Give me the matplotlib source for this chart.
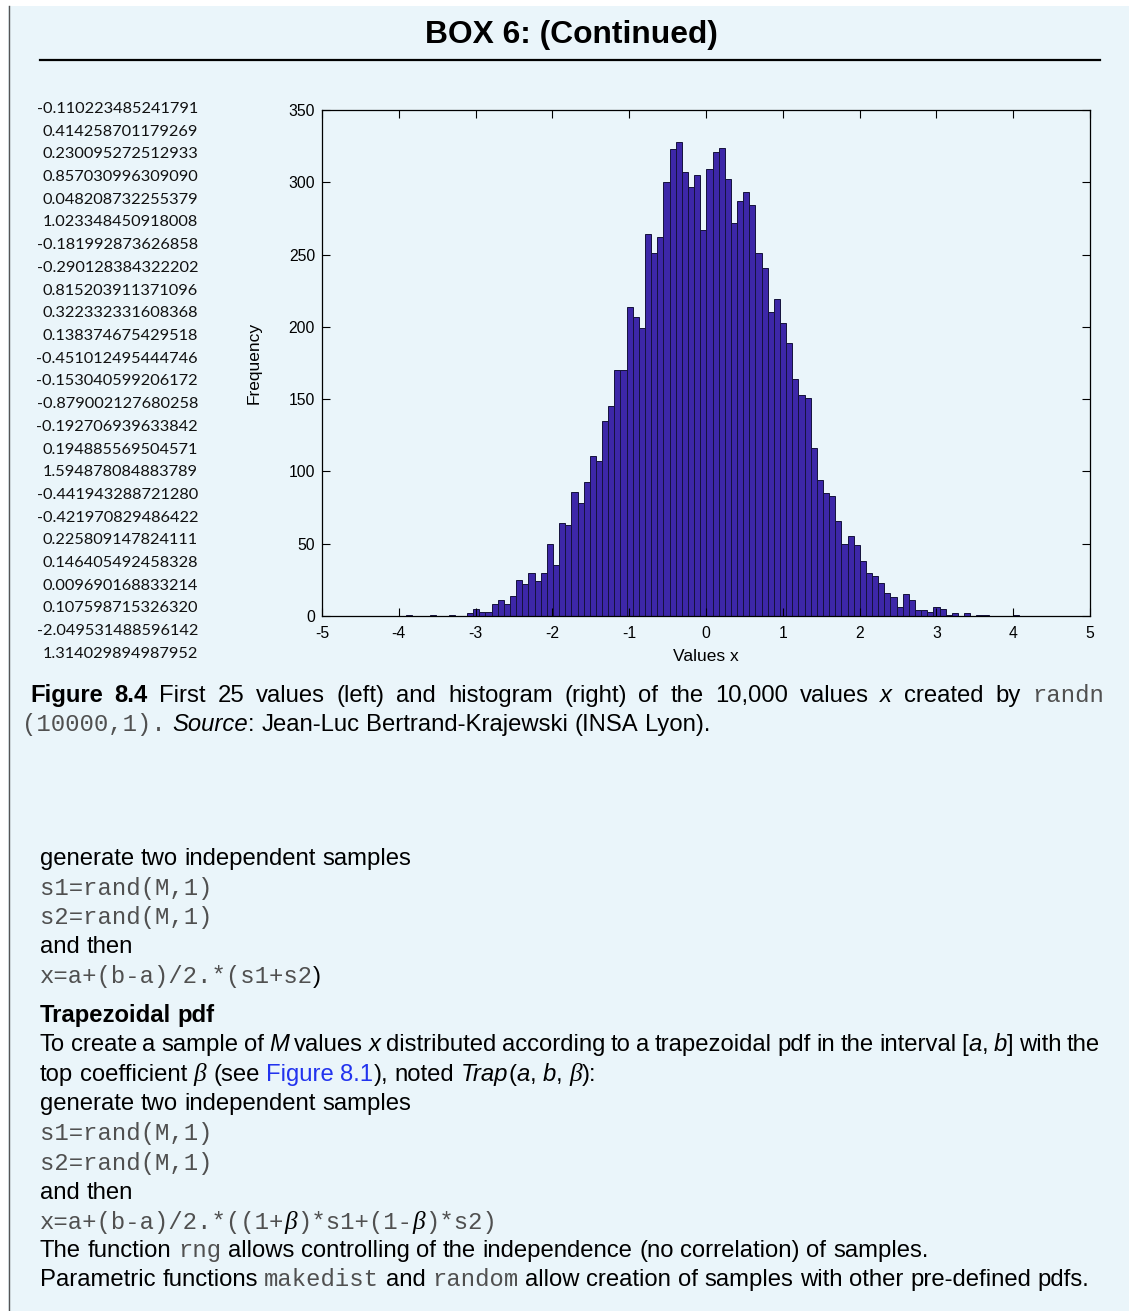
import numpy as np
import matplotlib.pyplot as plt
from matplotlib.lines import Line2D
from matplotlib.patches import Rectangle

plt.rcParams['axes.unicode_minus'] = False

W, H = 1129, 1311
BG = '#EAF5FA'
BAR = '#3D27A8'

# first 25 values of randn(10000,1)
first_values = [
    '-0.110223485241791', '0.414258701179269', '0.230095272512933',
    '0.857030996309090', '0.048208732255379', '1.023348450918008',
    '-0.181992873626858', '-0.290128384322202', '0.815203911371096',
    '0.322332331608368', '0.138374675429518', '-0.451012495444746',
    '-0.153040599206172', '-0.879002127680258', '-0.192706939633842',
    '0.194885569504571', '1.594878084883789', '-0.441943288721280',
    '-0.421970829486422', '0.225809147824111', '0.146405492458328',
    '0.009690168833214', '0.107598715326320', '-2.049531488596142',
    '1.314029894987952',
]

# histogram of the 10,000 values: 100 bins between min and max
x_min, x_max = -3.91, 4.08
counts = [1, 0, 0, 0, 1, 0, 0, 1, 0, 0,
          2, 5, 3, 3, 8, 11, 8, 14, 25, 22,
          30, 24, 30, 50, 35, 64, 63, 86, 78, 93,
          111, 107, 135, 145, 170, 170, 214, 207, 199, 264,
          251, 262, 300, 323, 328, 307, 297, 305, 267, 309,
          321, 324, 302, 272, 287, 293, 284, 251, 241, 210,
          219, 203, 189, 164, 153, 151, 116, 94, 85, 83,
          66, 50, 55, 49, 38, 30, 28, 23, 16, 13,
          6, 15, 11, 4, 4, 3, 6, 5, 1, 2,
          0, 2, 0, 1, 1, 0, 0, 0, 0, 1]
xticks = list(range(-5, 6))
yticks = list(range(0, 351, 50))

FS = 17.2

fig = plt.figure(figsize=(W / 100, H / 100), dpi=100)
fig.patch.set_facecolor('white')
renderer = fig.canvas.get_renderer()


def px(x):
    return x / W


def py(y):
    return 1 - y / H


def style(st, fs):
    d = {'r': dict(family='Liberation Sans'),
         'b': dict(family='Liberation Sans', weight='bold'),
         'i': dict(family='Liberation Sans', style='italic'),
         'm': dict(family='Liberation Mono', color='#505050'),
         'l': dict(family='Liberation Sans', color='#2233ee'),
         'g': dict(family='Liberation Serif', style='italic')}[st]
    d = dict(d)
    d.setdefault('color', 'black')
    d['fontsize'] = fs + (1 if st == 'g' else 0)
    return d


def rich_line(y, segs, x0=40, x1=None, fs=FS):
    pieces = []
    pending = False
    for txt, st in segs:
        parts = txt.split(' ')
        for i, p in enumerate(parts):
            if i > 0:
                pending = True
            if p == '':
                continue
            pieces.append((p, st, pending and len(pieces) > 0))
            pending = False
    items = []
    for word, st, sp in pieces:
        t = fig.text(0, py(y), word, ha='left', va='baseline', **style(st, fs))
        w = t.get_window_extent(renderer).width
        items.append((t, w, sp))
    space = fs * 100 / 72 * 0.278
    if x1 is not None:
        ngaps = sum(1 for it in items if it[2])
        space = (x1 - x0 - sum(it[1] for it in items)) / ngaps
    x = x0
    for t, w, sp in items:
        if sp:
            x += space
        t.set_x(px(x))
        x += w


# box background and frame
fig.patches.append(Rectangle((px(8), 0), 1, py(6), transform=fig.transFigure,
                             facecolor=BG, edgecolor='none', zorder=-5))
fig.lines.append(Line2D([px(8.5), px(8.5)], [0, py(6)], transform=fig.transFigure,
                        color='#555555', lw=1, zorder=-4))

# title
fig.text(px(571), py(43), 'BOX 6: (Continued)', ha='center', va='baseline',
         family='Liberation Sans', weight='bold', fontsize=22.9)
fig.lines.append(Line2D([px(40), px(1100)], [py(60), py(60)], transform=fig.transFigure,
                        color='black', lw=1.6))

# first 25 values
for i, v in enumerate(first_values):
    fig.text(px(198), py(113 + 22.7 * i), v, ha='right', va='baseline',
             family='Lato', fontsize=11.8, color='#111111')

# histogram
ax = fig.add_axes([px(322), py(616), 768 / W, 506 / H], zorder=2)
ax.patch.set_alpha(0)
edges = np.linspace(x_min, x_max, len(counts) + 1)
ax.bar(edges[:-1], counts, width=edges[1] - edges[0], align='edge',
       color=BAR, edgecolor='#15123c', linewidth=0.7)
ax.set_xlim(-5, 5)
ax.set_ylim(0, 350)
ax.set_xticks(xticks)
ax.set_yticks(yticks)
ax.tick_params(direction='in', top=True, right=True, length=6, width=0.8,
               labelsize=11.3)
ax.tick_params(axis='x', pad=7)
ax.tick_params(axis='y', pad=5)
for s in ax.spines.values():
    s.set_linewidth(0.9)
for lab in ax.get_xticklabels() + ax.get_yticklabels():
    lab.set_family('Liberation Sans')
ax.set_xlabel('Values x', fontsize=12.5, family='Liberation Sans')
ax.set_ylabel('Frequency', fontsize=12.5, family='Liberation Sans')
ax.xaxis.set_label_coords(0.5, -0.065)
ax.yaxis.set_label_coords(-0.079, 0.5)

# caption
rich_line(702, [('Figure 8.4', 'b'),
                (' First 25 values (left) and histogram (right) of the 10,000 values ', 'r'),
                ('x', 'i'), (' created by ', 'r'), ('randn', 'm')], x0=30, x1=1104)
rich_line(731, [('(10000,1).', 'm'), (' ', 'r'), ('Source', 'i'),
                (': Jean-Luc Bertrand-Krajewski (INSA Lyon).', 'r')], x0=22)

# body text
rich_line(865, [('generate two independent samples', 'r')])
rich_line(895, [('s1=rand(M,1)', 'm')])
rich_line(924, [('s2=rand(M,1)', 'm')])
rich_line(953, [('and then', 'r')])
rich_line(983, [('x=a+(b-a)/2.*(s1+s2', 'm'), (')', 'r')])
rich_line(1022, [('Trapezoidal pdf', 'b')])
rich_line(1051, [('To create a sample of ', 'r'), ('M', 'i'), (' values ', 'r'), ('x', 'i'),
                 (' distributed according to a trapezoidal pdf in the interval [', 'r'),
                 ('a', 'i'), (', ', 'r'), ('b', 'i'), ('] with the', 'r')], x0=40, x1=1100)
rich_line(1081, [('top coefficient ', 'r'), ('β', 'g'), (' (see ', 'r'), ('Figure 8.1', 'l'),
                 ('), noted ', 'r'), ('Trap', 'i'), ('(', 'r'), ('a', 'i'), (', ', 'r'),
                 ('b', 'i'), (', ', 'r'), ('β', 'g'), ('):', 'r')])
rich_line(1110, [('generate two independent samples', 'r')])
rich_line(1140, [('s1=rand(M,1)', 'm')])
rich_line(1170, [('s2=rand(M,1)', 'm')])
rich_line(1199, [('and then', 'r')])
rich_line(1229, [('x=a+(b-a)/2.*((1+', 'm'), ('β', 'g'), (')*s1+(1-', 'm'), ('β', 'g'),
                 (')*s2)', 'm')])
rich_line(1257, [('The function ', 'r'), ('rng', 'm'),
                 (' allows controlling of the independence (no correlation) of samples.', 'r')])
rich_line(1286, [('Parametric functions ', 'r'), ('makedist', 'm'), (' and ', 'r'),
                 ('random', 'm'),
                 (' allow creation of samples with other pre-defined pdfs.', 'r')])

fig.savefig('out.png', dpi=100, facecolor=fig.get_facecolor())
